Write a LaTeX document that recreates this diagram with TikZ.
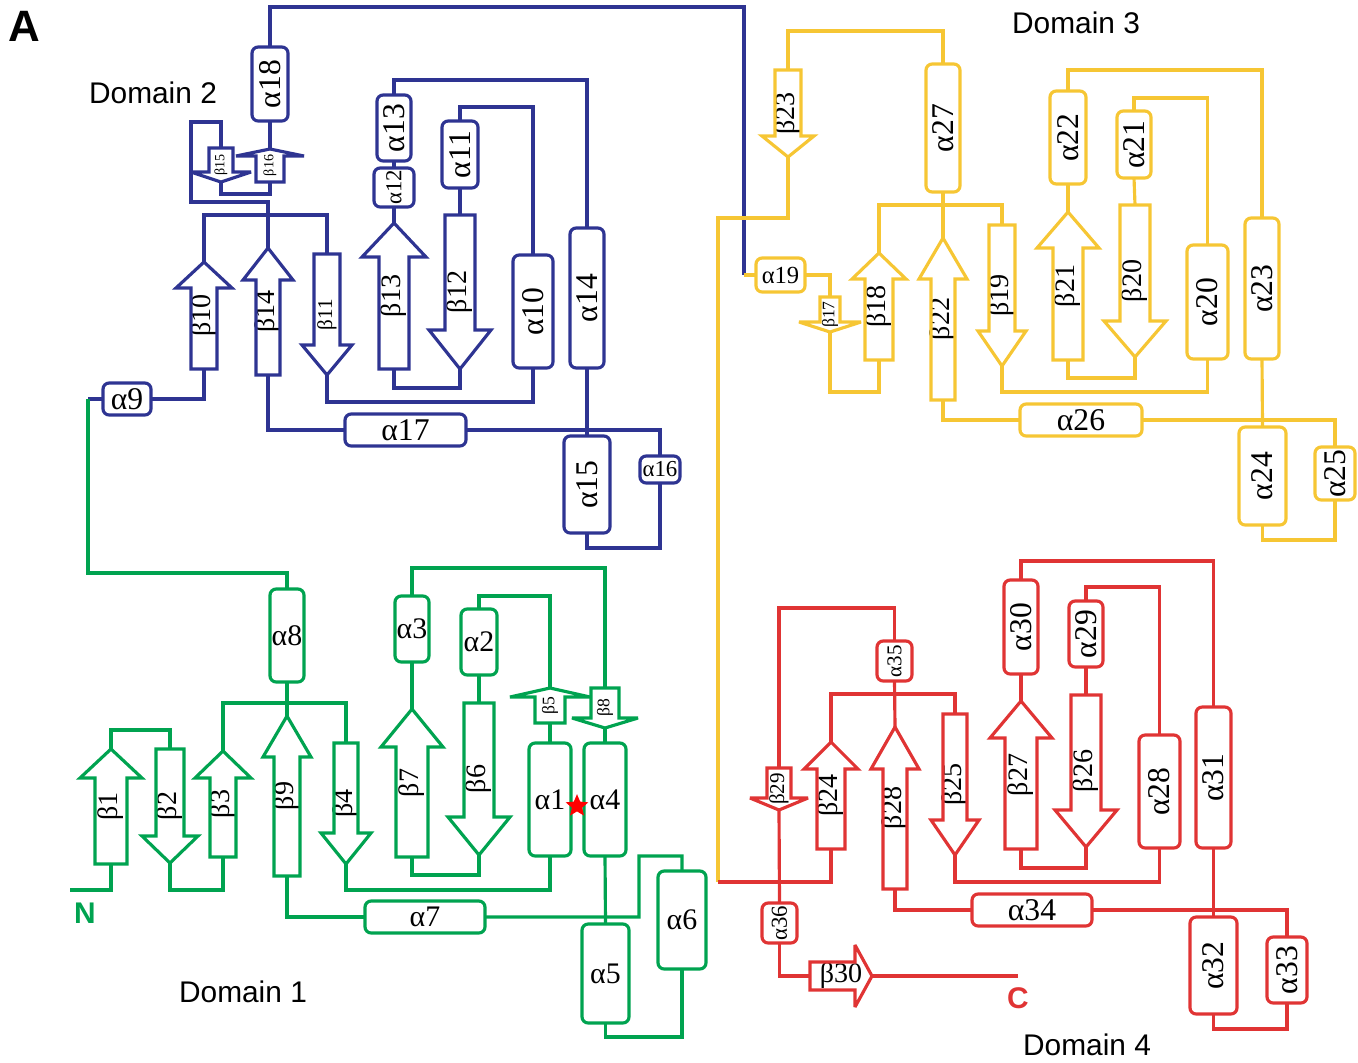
\documentclass[tikz,border=0pt]{standalone}
\usepackage{fontspec}
\setmainfont{Liberation Serif}
\newfontfamily\domfont{Liberation Sans}
\usetikzlibrary{shapes.geometric}
\definecolor{dblue}{RGB}{46,52,146}
\definecolor{dgreen}{RGB}{0,163,80}
\definecolor{dyellow}{RGB}{246,198,52}
\definecolor{dred}{RGB}{224,52,52}
\newcommand{\pxl}{0.569055pt}
\newcommand{\lsize}[1]{\fontsize{#1}{#1}\selectfont}
\newcommand{\vlab}[1]{\rotatebox{90}{#1}}
\tikzset{
	helix/.style={draw, rounded corners=3.5pt, inner sep=0pt, outer sep=0pt, text=black, font=\lsize{18}},
	sslabel/.style={inner sep=0pt, outer sep=0pt, text=black, font=\lsize{16}},
	strandline/.style={line join=miter, miter limit=4},
	domlabel/.style={text=black, font=\domfont\lsize{17}},
	termlabel/.style={font=\domfont\bfseries\lsize{17}},
}
% helix: name, x1, y1, x2, y2, label  (picture pixels)
\newcommand{\helix}[6]{%
	\node[helix, minimum width={(#4-#2)*\pxl}, minimum height={(#5-#3)*\pxl}] (#1) at ({(#2+#4)/2},{(#3+#5)/2}) {#6};}
% strand: name, x, tip y, tail y, shaft half width, head half width, head length, label
\newcommand{\strand}[8]{%
	\pgfmathsetmacro{\hbase}{#3+#7*(#4-#3)/abs(#4-#3)}%
	\node[sslabel, minimum width={2*#5*\pxl}, minimum height={abs(#4-#3)*\pxl}] (#1) at (#2,{(#3+#4)/2}) {\rotatebox{90}{#8}};
	\draw[strandline] (#2-#5,#4) -- (#2-#5,\hbase) -- (#2-#6,\hbase) -- (#2,#3) -- (#2+#6,\hbase) -- (#2+#5,\hbase) -- (#2+#5,#4) -- cycle;}

\begin{document}
\begin{tikzpicture}[x=0.02cm, y=-0.02cm, line width=1.8pt]
\useasboundingbox (0,0) rectangle (1358,1062);

\node[font=\domfont\bfseries\lsize{25}] (panel) at (24,26) {A};
\node[domlabel] (dom1) at (243,992) {Domain 1};
\node[domlabel] (dom2) at (153,93) {Domain 2};
\node[domlabel] (dom3) at (1076,23) {Domain 3};
\node[domlabel] (dom4) at (1087,1045) {Domain 4};

\coordinate (d12) at (88,399);
\coordinate (d23) at (744,275);
\coordinate (d34) at (718,882);
\coordinate (nterm) at (70,890);
\coordinate (cterm) at (1018,976);

%% Domain 2
\begin{scope}[color=dblue]
\helix{a9}{103}{383}{151}{415}{α9}
\helix{a10}{513}{255}{553}{368}{\vlab{α10}}
\helix{a11}{442}{121}{478}{188}{\vlab{α11}}
\helix{a12}{374}{168}{414}{207}{\vlab{\lsize{13}α12}}
\helix{a13}{377}{95}{411}{161}{\vlab{α13}}
\helix{a14}{570}{228}{604}{368}{\vlab{α14}}
\helix{a15}{564}{436}{610}{533}{\vlab{α15}}
\helix{a16}{640}{456}{680}{483}{\lsize{13}α16}
\helix{a17}{345}{414}{466}{446}{α17}
\helix{a18}{252}{47}{288}{121}{\vlab{α18}}
\strand{b10}{204}{262}{369}{13}{28}{26}{β10}
\strand{b11}{327}{375}{254}{13}{25}{30}{\lsize{12}β11}
\strand{b12}{460}{369}{215}{15}{31}{39}{β12}
\strand{b13}{394}{223}{369}{15}{32}{34}{β13}
\strand{b14}{268}{248}{375}{12}{25}{32}{β14}
\strand{b15}{221}{182}{148}{12}{30}{10}{\lsize{8}β15}
\strand{b16}{270}{149}{182}{14}{34}{7}{\lsize{8}β16}
\draw (a9.west) -- (d12);
\draw (a9.east) -| (b10.south);
\draw (b10.north) -- ++(0,-47) -| (b11.north);
\draw (b11.south) -- ++(0,27) -| (a10.south);
\draw (a10.north) -- ++(0,-148) -| (a11.north);
\draw (a11.south) -- (b12.north);
\draw (b12.south) -- ++(0,19) -| (b13.south);
\draw (b13.north) -- (a12.south);
\draw (a12.north) -- (a13.south);
\draw (a13.north) -- ++(0,-15) -| (a14.north);
\draw (a14.south) -- (a15.north);
\draw (a15.south) -- ++(0,15) -| (a16.south);
\draw (a16.north) |- (a17.east);
\draw (a17.west) -| (b14.south);
\draw (b14.north) -- ++(0,-46) -| ++(-77,-80) -| (b15.north);
\draw (b15.south) -- ++(0,12) -| (b16.south);
\draw (b16.north) -- (a18.south);
\draw (a18.north) -- ++(0,-40) -| (d23);
\end{scope}

%% Domain 3
\begin{scope}[color=dyellow]
\helix{a19}{756}{258}{805}{292}{\lsize{14}α19}
\helix{a20}{1187}{245}{1228}{359}{\vlab{α20}}
\helix{a21}{1117}{111}{1151}{178}{\vlab{α21}}
\helix{a22}{1050}{91}{1086}{184}{\vlab{α22}}
\helix{a23}{1245}{218}{1279}{359}{\vlab{α23}}
\helix{a24}{1239}{427}{1286}{525}{\vlab{α24}}
\helix{a25}{1315}{447}{1355}{500}{\vlab{α25}}
\helix{a26}{1020}{404}{1142}{436}{α26}
\helix{a27}{926}{64}{960}{192}{\vlab{α27}}
\strand{b17}{830}{332}{297}{10}{31}{10}{\lsize{10}β17}
\strand{b18}{879}{253}{360}{14}{27}{26}{β18}
\strand{b19}{1002}{366}{225}{13}{24}{35}{β19}
\strand{b20}{1135}{357}{205}{15}{31}{36}{β20}
\strand{b21}{1068}{212}{360}{15}{31}{36}{β21}
\strand{b22}{943}{238}{400}{12}{24}{41}{β22}
\strand{b23}{788}{157}{70}{13}{26}{21}{β23}
\draw (d23) -- (a19.west);
\draw (a19.east) -| (b17.north);
\draw (b17.south) -- ++(0,60) -| (b18.south);
\draw (b18.north) -- ++(0,-48) -| (b19.north);
\draw (b19.south) -- ++(0,26) -| (a20.south);
\draw (a20.north) -- ++(0,-147) -| (a21.north);
\draw (a21.south) -- (b20.north);
\draw (b20.south) -- ++(0,21) -| (b21.south);
\draw (b21.north) -- (a22.south);
\draw (a22.north) -- ++(0,-21) -| (a23.north);
\draw (a23.south) -- (a24.north);
\draw (a24.south) -- ++(0,15) -| (a25.south);
\draw (a25.north) |- (a26.east);
\draw (a26.west) -| (b22.south);
\draw (b22.north) -- (a27.south);
\draw (a27.north) -- ++(0,-33) -| (b23.north);
\draw (b23.south) -- ++(0,61) -| (d34);
\end{scope}

%% Domain 4
\begin{scope}[color=dred]
\helix{a28}{1139}{735}{1180}{848}{\vlab{α28}}
\helix{a29}{1069}{601}{1103}{667}{\vlab{α29}}
\helix{a30}{1004}{580}{1038}{674}{\vlab{α30}}
\helix{a31}{1196}{707}{1231}{848}{\vlab{α31}}
\helix{a32}{1190}{917}{1237}{1014}{\vlab{α32}}
\helix{a33}{1267}{937}{1307}{1003}{\vlab{α33}}
\helix{a34}{972}{894}{1092}{926}{α34}
\helix{a35}{877}{641}{912}{681}{\vlab{\lsize{12}α35}}
\helix{a36}{762}{903}{797}{943}{\vlab{\lsize{13}α36}}
\strand{b24}{831}{742}{849}{14}{27}{27}{β24}
\strand{b25}{955}{855}{714}{12}{24}{35}{β25}
\strand{b26}{1086}{847}{695}{15}{31}{37}{β26}
\strand{b27}{1021}{701}{849}{16}{31}{37}{β27}
\strand{b28}{895}{727}{889}{12}{24}{42}{β28}
\strand{b29}{779}{810}{768}{12}{29}{12}{\lsize{12}β29}
\node[sslabel, minimum width={62*\pxl}, minimum height={28*\pxl}] (b30) at (841,976) {β30};
\draw[strandline] (810,962) -- (855,962) -- (855,945) -- (872,976) -- (855,1007) -- (855,990) -- (810,990) -- cycle;
\draw (d34) -| (b24.south);
\draw (b24.north) -- ++(0,-48) -| (b25.north);
\draw (b25.south) -- ++(0,27) -| (a28.south);
\draw (a28.north) -- ++(0,-148) -| (a29.north);
\draw (a29.south) -- (b26.north);
\draw (b26.south) -- ++(0,21) -| (b27.south);
\draw (b27.north) -- (a30.south);
\draw (a30.north) -- ++(0,-19) -| (a31.north);
\draw (a31.south) -- (a32.north);
\draw (a32.south) -- ++(0,15) -| (a33.south);
\draw (a33.north) |- (a34.east);
\draw (a34.west) -| (b28.south);
\draw (b28.north) -- (a35.south);
\draw (a35.north) -- ++(0,-33) -| (b29.north);
\draw (b29.south) -- (a36.north);
\draw (a36.south) |- (b30.west);
\draw (b30.east) -- (cterm);
\node[termlabel, text=dred] (clab) at (1018,998) {C};
\end{scope}

%% Domain 1
\begin{scope}[color=dgreen, helix/.append style={font=\lsize{17}}]
\helix{a1}{529}{743}{571}{856}{α1}
\helix{a2}{461}{609}{497}{675}{α2}
\helix{a3}{395}{596}{429}{662}{α3}
\helix{a4}{584}{743}{626}{856}{α4}
\helix{a5}{582}{924}{629}{1023}{α5}
\helix{a6}{658}{871}{706}{969}{α6}
\helix{a7}{365}{901}{485}{933}{α7}
\helix{a8}{270}{589}{304}{682}{α8}
\strand{b1}{111}{749}{864}{16}{31}{29}{β1}
\strand{b2}{170}{863}{749}{14}{28}{27}{β2}
\strand{b3}{223}{751}{857}{13}{28}{27}{β3}
\strand{b4}{346}{864}{743}{12}{25}{31}{β4}
\strand{b5}{550}{688}{723}{15}{40}{9}{\lsize{10}β5}
\strand{b6}{479}{855}{703}{15}{31}{38}{β6}
\strand{b7}{412}{709}{857}{16}{31}{38}{β7}
\strand{b8}{605}{728}{688}{14}{33}{10}{\lsize{10}β8}
\strand{b9}{287}{716}{876}{13}{24}{41}{β9}
\draw (nterm) -| (b1.south);
\draw (b1.north) -- ++(0,-19) -| (b2.north);
\draw (b2.south) -- ++(0,27) -| (b3.south);
\draw (b3.north) -- ++(0,-48) -| (b4.north);
\draw (b4.south) -- ++(0,26) -| (a1.south);
\draw (a1.north) -- (b5.south);
\draw (b5.north) -- ++(0,-92) -| (a2.north);
\draw (a2.south) -- (b6.north);
\draw (b6.south) -- ++(0,20) -| (b7.south);
\draw (b7.north) -- (a3.south);
\draw (a3.north) -- ++(0,-28) -| (b8.north);
\draw (b8.south) -- (a4.north);
\draw (a4.south) -- (a5.north);
\draw (a5.south) -- ++(0,14) -| (a6.south);
\draw (a6.north) -- ++(0,-15) -| ++(-43,61) -- (a7.east);
\draw (a7.west) -| (b9.south);
\draw (b9.north) -- (a8.south);
\draw (a8.north) -- ++(0,-16) -| (d12);
\node[termlabel, text=dgreen] (nlab) at (85,913) {N};
\end{scope}

\node[star, star points=5, star point ratio=2.2, fill=red, inner sep=0pt, minimum size=13.5pt] (site) at (577,806) {};

\end{tikzpicture}
\end{document}
